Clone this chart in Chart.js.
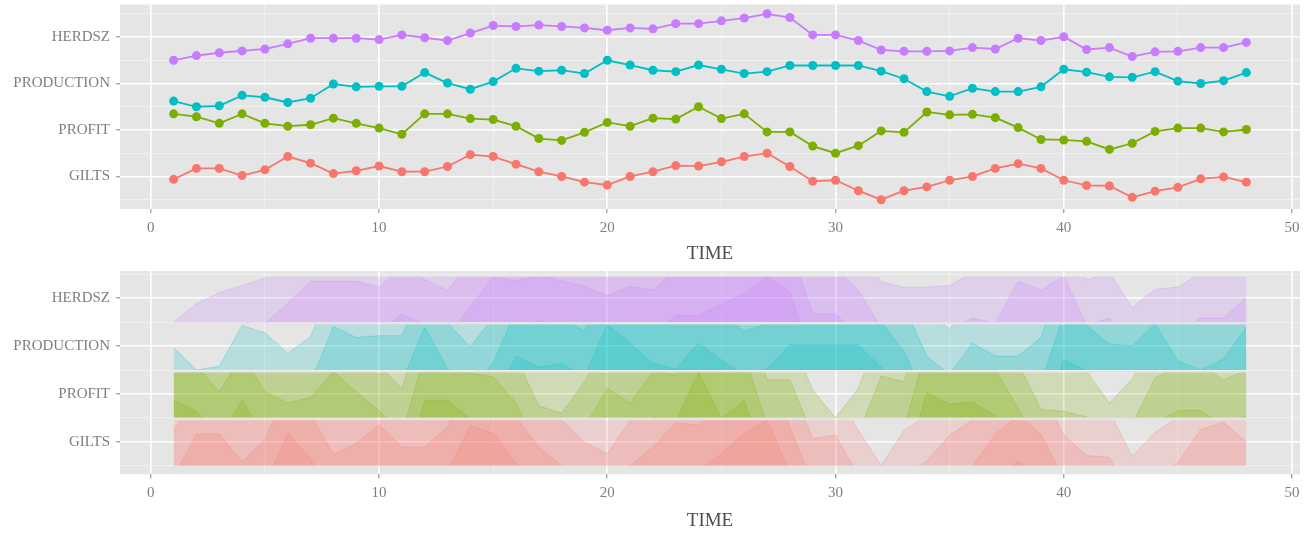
<!doctype html>
<html lang="en">
  <head>
    <meta charset="utf-8">
    <title>Pigs series and horizon plot</title>
    <style>
      * {
        margin: 0;
        padding: 0;
      }
      body {
        width: 1307px;
        height: 533px;
        background: white;
        overflow: hidden;
      }
      .chartBox {
        position: absolute;
        left: 0;
        width: 1307px;
      }
      #topBox {
        top: 0;
        height: 266px;
      }
      #bottomBox {
        top: 266px;
        height: 267px;
      }
    </style>
  </head>
  <body>
    <div class="chartBox" id="topBox"><canvas id="lineChart"></canvas></div>
    <div class="chartBox" id="bottomBox"><canvas id="horizonChart"></canvas></div>
    <script src="https://cdn.jsdelivr.net/npm/chart.js/dist/chart.umd.min.js"></script>
    <script>
    // setup
    const time = [1, 2, 3, 4, 5, 6, 7, 8, 9, 10, 11, 12, 13, 14, 15, 16, 17, 18, 19, 20, 21, 22, 23, 24,
                  25, 26, 27, 28, 29, 30, 31, 32, 33, 34, 35, 36, 37, 38, 39, 40, 41, 42, 43, 44, 45, 46, 47, 48];
    const seriesNames = ['GILTS', 'PROFIT', 'PRODUCTION', 'HERDSZ'];
    const seriesColors = ['#F8766D', '#7CAE00', '#00BFC4', '#C77CFF'];
    const bandFills = ['rgba(248, 118, 109, 0.2)', 'rgba(124, 174, 0, 0.2)', 'rgba(0, 191, 196, 0.2)', 'rgba(199, 124, 255, 0.2)'];
    const bandLines = ['rgba(248, 118, 109, 0.35)', 'rgba(124, 174, 0, 0.35)', 'rgba(0, 191, 196, 0.35)', 'rgba(199, 124, 255, 0.35)'];

    // values (each series is rescaled to 0..1 below)
    const gilts = [0.43, 0.66, 0.66, 0.51, 0.63, 0.91, 0.77, 0.55, 0.61, 0.71, 0.59, 0.59, 0.70, 0.95, 0.91, 0.75,
                   0.59, 0.49, 0.37, 0.31, 0.49, 0.59, 0.72, 0.71, 0.80, 0.91, 0.98, 0.70, 0.39, 0.41, 0.19, 0.00,
                   0.19, 0.27, 0.41, 0.49, 0.66, 0.76, 0.66, 0.41, 0.30, 0.29, 0.05, 0.18, 0.26, 0.44, 0.48, 0.37];
    const profit = [0.83, 0.77, 0.63, 0.83, 0.63, 0.57, 0.60, 0.74, 0.63, 0.53, 0.40, 0.83, 0.83, 0.73, 0.71, 0.57,
                    0.31, 0.27, 0.44, 0.65, 0.57, 0.74, 0.72, 0.98, 0.73, 0.83, 0.45, 0.45, 0.15, 0.00, 0.16, 0.47,
                    0.44, 0.87, 0.81, 0.82, 0.75, 0.54, 0.29, 0.28, 0.25, 0.08, 0.21, 0.46, 0.53, 0.53, 0.45, 0.50];
    const production = [0.12, 0.00, 0.02, 0.24, 0.20, 0.09, 0.18, 0.48, 0.42, 0.43, 0.43, 0.72, 0.50, 0.37, 0.53, 0.81,
                        0.75, 0.77, 0.70, 0.98, 0.88, 0.77, 0.74, 0.88, 0.79, 0.70, 0.74, 0.87, 0.87, 0.87, 0.87, 0.75,
                        0.59, 0.32, 0.22, 0.39, 0.32, 0.32, 0.42, 0.79, 0.73, 0.63, 0.62, 0.74, 0.54, 0.49, 0.55, 0.72];
    const herdsz = [0.00, 0.10, 0.16, 0.20, 0.24, 0.35, 0.47, 0.47, 0.47, 0.44, 0.54, 0.48, 0.42, 0.58, 0.74, 0.72,
                    0.75, 0.72, 0.69, 0.64, 0.69, 0.67, 0.78, 0.78, 0.84, 0.90, 0.99, 0.91, 0.54, 0.54, 0.42, 0.22,
                    0.19, 0.19, 0.20, 0.27, 0.24, 0.47, 0.42, 0.50, 0.23, 0.27, 0.08, 0.18, 0.19, 0.27, 0.27, 0.38];

    const xTicks = [0, 5, 10, 15, 20, 25, 30, 35, 40, 45, 50];
    const yTicks = [0.5, 1, 1.5, 2, 2.5, 3, 3.5, 4, 4.5];
    const nBands = 4;
    const rowHeight = 0.95;

    function rescale(arr) {
      const lo = Math.min(...arr);
      const hi = Math.max(...arr);
      return arr.map(v => (v - lo) / (hi - lo));
    }
    const scaled = [gilts, profit, production, herdsz].map(rescale);

    // top: one line per series, shifted to its own row
    const lineSets = scaled.map((vals, i) => ({
      label: seriesNames[i],
      data: time.map((t, j) => ({ x: t, y: vals[j] + i + 0.5 })),
      borderColor: seriesColors[i],
      backgroundColor: seriesColors[i],
      borderWidth: 1.8,
      pointRadius: 4.5,
      pointBorderWidth: 0,
      tension: 0
    }));

    // bottom: horizon bands, each band shifted down and clipped to its row
    const horizonSets = [];
    scaled.forEach((vals, i) => {
      const base = i + 0.5;
      for (let k = 0; k < nBands; k++) {
        horizonSets.push({
          label: seriesNames[i] + ' ' + k,
          data: time.map((t, j) => ({ x: t, y: base + (vals[j] * nBands - k) * rowHeight })),
          fill: { value: base },
          backgroundColor: bandFills[i],
          borderColor: bandLines[i],
          borderWidth: 0.8,
          pointRadius: 0,
          tension: 0,
          band: { lo: base, hi: base + rowHeight }
        });
      }
    });

    // clip each horizon dataset (fill + line) to its row
    const horizonClip = {
      id: 'horizonClip',
      beforeDatasetDraw(chart, args) {
        const band = chart.data.datasets[args.index].band;
        if (!band) return;
        const { ctx, chartArea: { left, right }, scales: { y } } = chart;
        const top = y.getPixelForValue(band.hi);
        const bottom = y.getPixelForValue(band.lo);
        ctx.save();
        ctx.beginPath();
        ctx.rect(left, top, right - left, bottom - top);
        ctx.clip();
      },
      afterDatasetDraw(chart, args) {
        if (chart.data.datasets[args.index].band) chart.ctx.restore();
      }
    };
    // filler has to run after the clip, so move it behind our plugin
    const filler = Chart.registry.getPlugin('filler');
    Chart.unregister(filler);
    Chart.register(horizonClip, filler);

    // grey panel
    const panelBg = {
      id: 'panelBg',
      beforeDraw(chart) {
        const { ctx, chartArea: { left, top, width, height } } = chart;
        ctx.save();
        ctx.fillStyle = '#E5E5E5';
        ctx.fillRect(left, top, width, height);
        ctx.restore();
      }
    };

    Chart.defaults.font.family = "'Liberation Serif', serif";
    Chart.defaults.color = '#7F7F7F';

    function makeOptions(yMin, yMax, padTop, xHeight) {
      return {
        responsive: true,
        maintainAspectRatio: false,
        animation: false,
        events: [],
        layout: { padding: { top: padTop, right: 7, left: 0, bottom: 0 } },
        plugins: {
          legend: { display: false },
          tooltip: { enabled: false }
        },
        scales: {
          x: {
            type: 'linear',
            min: -1.35,
            max: 50.35,
            afterBuildTicks: scale => { scale.ticks = xTicks.map(v => ({ value: v })); },
            afterFit: scale => {
              scale.height = xHeight;
              scale.paddingLeft = 0;
              scale.paddingRight = 0;
            },
            border: { display: false },
            grid: {
              color: c => c.tick.value % 10 === 0 ? '#FFFFFF' : '#F2F2F2',
              lineWidth: c => c.tick.value % 10 === 0 ? 1.6 : 0.8,
              tickColor: c => c.tick.value % 10 === 0 ? '#7F7F7F' : 'rgba(0, 0, 0, 0)',
              tickLength: 4,
              tickWidth: 1
            },
            ticks: {
              autoSkip: false,
              maxRotation: 0,
              padding: 6,
              font: { size: 15 },
              callback: value => value % 10 === 0 ? value : ''
            },
            title: {
              display: true,
              text: 'TIME',
              color: '#4D4D4D',
              font: { size: 19 },
              padding: { top: 0, bottom: 1 }
            }
          },
          y: {
            type: 'linear',
            min: yMin,
            max: yMax,
            afterBuildTicks: scale => { scale.ticks = yTicks.map(v => ({ value: v })); },
            afterFit: scale => {
              scale.width = 120;
              scale.paddingTop = 0;
              scale.paddingBottom = 0;
            },
            border: { display: false },
            grid: {
              color: c => Number.isInteger(c.tick.value) ? '#FFFFFF' : '#F2F2F2',
              lineWidth: c => Number.isInteger(c.tick.value) ? 1.6 : 0.8,
              tickColor: c => Number.isInteger(c.tick.value) ? '#7F7F7F' : 'rgba(0, 0, 0, 0)',
              tickLength: 4,
              tickWidth: 1
            },
            ticks: {
              autoSkip: false,
              padding: 6,
              font: { size: 15 },
              callback: value => Number.isInteger(value) ? seriesNames[value - 1] : ''
            }
          }
        }
      };
    }

    // render
    const lineChart = new Chart(document.getElementById('lineChart'), {
      type: 'line',
      data: { datasets: lineSets },
      options: makeOptions(0.3, 4.7, 4, 57),
      plugins: [panelBg]
    });

    const horizonChart = new Chart(document.getElementById('horizonChart'), {
      type: 'line',
      data: { datasets: horizonSets },
      options: makeOptions(0.32, 4.57, 5, 58.7),
      plugins: [panelBg]
    });
    </script>
  </body>
</html>
